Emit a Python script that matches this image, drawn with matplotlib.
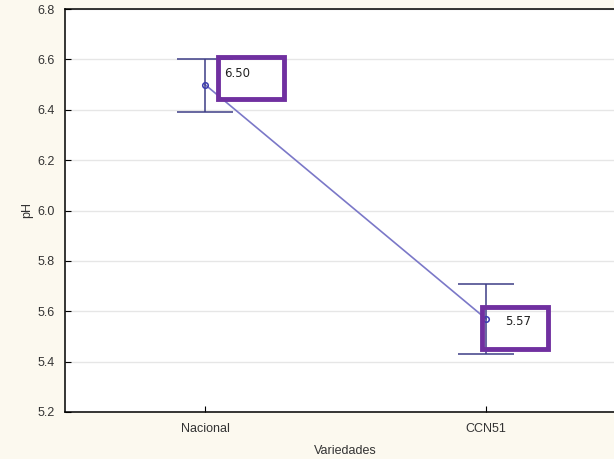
import matplotlib.pyplot as plt
from matplotlib.patches import Rectangle

plt.rcParams['font.family'] = ['Liberation Sans', 'DejaVu Sans']

variedades = ["Nacional", "CCN51"]
ph_media = [6.50, 5.57]
ph_inferior = [6.39, 5.43]
ph_superior = [6.60, 5.71]
etiquetas = ["6.50", "5.57"]

fig = plt.figure(figsize=(6.14, 4.59), dpi=100, facecolor="#fcf9ef")
ax = fig.add_axes([64.5 / 614, 47 / 459, 562 / 614, 403 / 459])
ax.set_facecolor("white")

x = list(range(len(variedades)))
err_lo = [m - lo for m, lo in zip(ph_media, ph_inferior)]
err_hi = [hi - m for m, hi in zip(ph_media, ph_superior)]

ax.plot(x, ph_media, color="#7b78c8", lw=1.2, zorder=3)
ax.errorbar(x, ph_media, yerr=[err_lo, err_hi], fmt="none",
            ecolor="#3d3d86", elinewidth=1.1, capsize=20, capthick=1.1, zorder=3)
ax.plot(x, ph_media, "o", ms=4, mfc="none", mec="#3b3bb0", mew=1.1, zorder=4)

# cajas de resaltado con el valor medio
cajas = [(0.046, 6.443, 0.235, 0.166), (0.986, 5.450, 0.234, 0.167)]
for (bx, by, bw, bh), xi, m, txt in zip(cajas, x, ph_media, etiquetas):
    ax.add_patch(Rectangle((bx, by), bw, bh, fill=False, ec="#7030a0",
                           lw=3.5, zorder=5, clip_on=False))
    ax.text(xi + 0.068, m + (0.042 if xi == 0 else -0.009), txt,
            fontsize=8.5, color="#222222", va="center", ha="left",
            family=["DejaVu Sans"], zorder=6)

ax.set_xlim(-0.5, 1.5)
ax.set_ylim(5.2, 6.8)
ax.set_xticks(x)
ax.set_xticklabels(variedades)
ax.set_yticks([5.2, 5.4, 5.6, 5.8, 6.0, 6.2, 6.4, 6.6, 6.8])
ax.yaxis.set_major_formatter(plt.FormatStrFormatter("%.1f"))
ax.tick_params(direction="in", length=4, width=0.8, labelsize=9,
               colors="black", labelcolor="#333333")
ax.tick_params(axis="x", pad=8)
ax.tick_params(axis="y", pad=7)
ax.grid(axis="y", color="#e6e6e6", lw=1)
ax.set_axisbelow(True)
for s in ax.spines.values():
    s.set_linewidth(1.1)

ax.set_xlabel("Variedades", fontsize=9, color="#333333", labelpad=7)
ax.set_ylabel("pH", fontsize=9, color="#333333", labelpad=3)

fig.savefig("out.png", dpi=100, facecolor=fig.get_facecolor())
